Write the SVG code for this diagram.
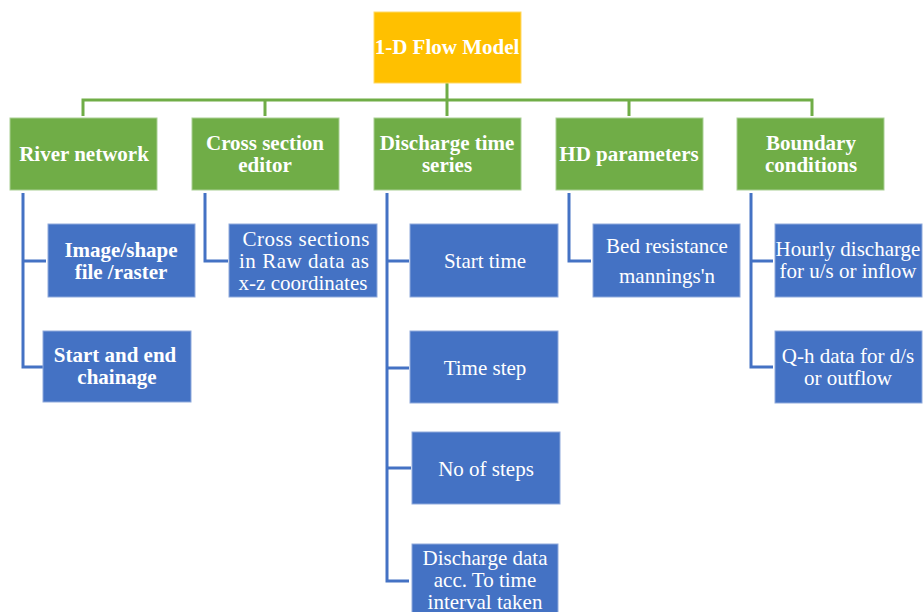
<svg xmlns="http://www.w3.org/2000/svg" width="923" height="612" viewBox="0 0 923 612">
<style>
.g{fill:#70AD47;stroke:#A9CF94;stroke-width:1}
.b{fill:#4472C4;stroke:#8FAADC;stroke-width:1}
.o{fill:#FFC000;stroke:#FFD966;stroke-width:1}
.t text{fill:#fff;font-size:21px;text-anchor:middle}
.bd{font-weight:bold}
.gc{fill:none;stroke:#70AD47;stroke-width:3}
.bc{fill:none;stroke:#4472C4;stroke-width:3}
</style>
<rect width="923" height="612" fill="#fff"/>
<g id="connectors">
<path class="gc" d="M447 83V100M83 116V100H812V116M265 100V116M447 100V116M629 100V116"/>
<path class="bc" d="M23 193V367H45M23 261H46"/>
<path class="bc" d="M205 193V261H228"/>
<path class="bc" d="M387 193V581H409M387 261H409M387 368H409M387 468H411"/>
<path class="bc" d="M569 193V261H591"/>
<path class="bc" d="M751 193V367H773M751 261H773"/>
</g>
<g class="t" font-family="Liberation Serif, Times New Roman, serif">
<g id="root"><rect class="o" x="374" y="12" width="147" height="71"/><text class="bd" x="447" y="54">1-D Flow Model</text></g>
<g id="river"><rect class="g" x="10" y="118" width="147" height="72"/><text class="bd" x="84" y="161">River network</text></g>
<g id="cross"><rect class="g" x="192" y="118" width="147" height="72"/><text class="bd" x="265" y="150">Cross section</text><text class="bd" x="265" y="172">editor</text></g>
<g id="discharge"><rect class="g" x="374" y="118" width="147" height="72"/><text class="bd" x="447" y="150">Discharge time</text><text class="bd" x="447" y="172">series</text></g>
<g id="hd"><rect class="g" x="556" y="118" width="147" height="72"/><text class="bd" x="629" y="161">HD parameters</text></g>
<g id="boundary"><rect class="g" x="737" y="118" width="147" height="72"/><text class="bd" x="811" y="150">Boundary</text><text class="bd" x="811" y="172">conditions</text></g>
<g id="image"><rect class="b" x="48" y="224" width="147" height="73"/><text class="bd" x="121" y="257">Image/shape</text><text class="bd" x="121" y="279">file /raster</text></g>
<g id="chainage"><rect class="b" x="43" y="331" width="148" height="71"/><text class="bd" x="115" y="362">Start and end</text><text class="bd" x="117" y="384">chainage</text></g>
<g id="crossdata"><rect class="b" x="229" y="224" width="148" height="73"/><text x="306" y="246" textLength="127" lengthAdjust="spacing">Cross  sections</text><text x="304" y="268" textLength="130" lengthAdjust="spacing">in Raw data as</text><text x="303" y="290">x-z coordinates</text></g>
<g id="starttime"><rect class="b" x="410" y="224" width="148" height="73"/><text x="485" y="268">Start time</text></g>
<g id="timestep"><rect class="b" x="410" y="331" width="148" height="72"/><text x="485" y="375">Time step</text></g>
<g id="nsteps"><rect class="b" x="412" y="432" width="148" height="72"/><text x="486" y="476">No of steps</text></g>
<g id="ddata"><rect class="b" x="412" y="544" width="146" height="75"/><text x="485" y="565">Discharge data</text><text x="485" y="587">acc. To time</text><text x="485" y="609">interval taken</text></g>
<g id="bed"><rect class="b" x="593" y="224" width="147" height="73"/><text x="667" y="253">Bed resistance</text><text x="667" y="283">mannings'n</text></g>
<g id="hourly"><rect class="b" x="775" y="224" width="147" height="73"/><text x="848" y="256">Hourly discharge</text><text x="848" y="278">for u/s or inflow</text></g>
<g id="qh"><rect class="b" x="775" y="331" width="147" height="72"/><text x="848" y="363">Q-h data for d/s</text><text x="848" y="385">or outflow</text></g>
</g>
</svg>
